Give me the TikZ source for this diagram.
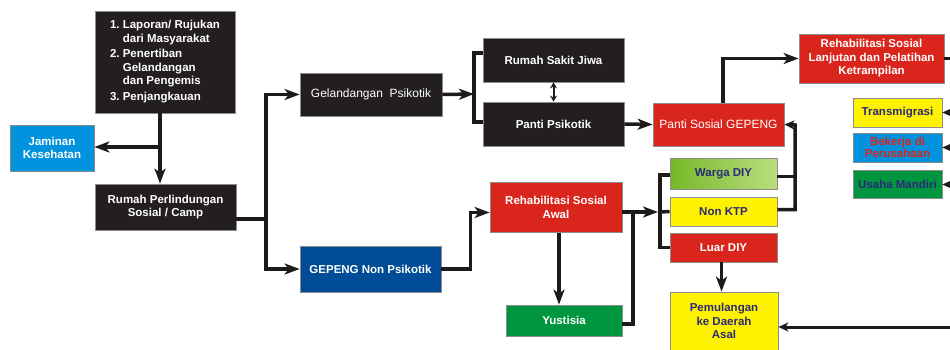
\documentclass[tikz,border=0pt]{standalone}
\usepackage{fontspec}
\setmainfont{Liberation Sans}
\usepackage{xcolor}
\usetikzlibrary{arrows.meta,calc}
\definecolor{boxblack}{RGB}{35,31,32}
\definecolor{boxline}{RGB}{140,140,140}
\definecolor{skyblue}{RGB}{0,146,221}
\definecolor{deepblue}{RGB}{0,76,151}
\definecolor{boxred}{RGB}{218,37,29}
\definecolor{boxyellow}{RGB}{255,242,0}
\definecolor{boxgreen}{RGB}{0,150,64}
\definecolor{lightgreen}{RGB}{186,222,128}
\definecolor{midgreen}{RGB}{118,184,40}
\definecolor{navy}{RGB}{43,42,120}
\definecolor{linecol}{RGB}{30,26,26}

\begin{document}
\begin{tikzpicture}[x=1pt,y=-1pt,
    box/.style={draw=boxline,line width=0.8pt,inner sep=0pt,align=center,text=white,
      font=\fontsize{11.5}{13.5}\selectfont\bfseries},
    plain/.style={font=\fontsize{12}{14}\selectfont},
    conn/.style={line width=3.5pt,draw=linecol},
    arr/.style={-{Stealth[length=15pt,width=11pt,inset=4pt]}},
    sarr/.style={-{Stealth[length=10pt,width=9pt,inset=3pt]}}]
        \useasboundingbox (0,0) rectangle (950,350);
        % draw boxes
        \node[box,fill=boxblack,minimum width=140pt,minimum height=102pt] (laporan) at (165,62)
          {\begin{tabular}{@{}l@{\ }l@{}}1.&Laporan/ Rujukan\\&dari Masyarakat\\[2pt]2.&Penertiban\\&Gelandangan\\&dan Pengemis\\[2pt]3.&Penjangkauan\end{tabular}};
        \node[box,fill=skyblue,minimum width=84pt,minimum height=46pt] (jaminan) at (52,148) {Jaminan\\Kesehatan};
        \node[box,fill=boxblack,minimum width=141pt,minimum height=46pt] (rumah) at (165.5,207) {Rumah Perlindungan\\Sosial / Camp};
        \node[box,plain,fill=boxblack,minimum width=142pt,minimum height=43pt] (gelpsi) at (371,94.5) {Gelandangan\ \ Psikotik};
        \node[box,fill=deepblue,minimum width=141pt,minimum height=46pt] (gepeng) at (370.5,269) {GEPENG Non Psikotik};
        \node[box,fill=boxblack,minimum width=141pt,minimum height=44pt] (rsj) at (553.5,60) {Rumah Sakit Jiwa};
        \node[box,fill=boxblack,minimum width=141pt,minimum height=44pt] (panti) at (553.5,124) {Panti Psikotik};
        \node[box,plain,fill=boxred,minimum width=131pt,minimum height=43pt] (psg) at (718.5,124.5) {Panti Sosial GEPENG};
        \node[box,fill=boxred,minimum width=145pt,minimum height=49pt] (lanjut) at (871.5,58.5) {Rehabilitasi Sosial\\Lanjutan dan Pelatihan\\Ketrampilan};
        \node[box,fill=boxyellow,text=navy,minimum width=89pt,minimum height=29pt] (trans) at (897.5,112.5) {Transmigrasi};
        \node[box,fill=skyblue,text=boxred,minimum width=89pt,minimum height=29pt,
          font=\fontsize{11.5}{12.5}\selectfont\bfseries] (bekerja) at (897.5,147.5) {Bekerja di\\Perusahaan};
        \node[box,fill=boxgreen,text=navy,minimum width=89pt,minimum height=28pt] (usaha) at (897.5,184.5) {Usaha Mandiri};
        \node[box,fill=boxred,minimum width=132pt,minimum height=50pt] (awal) at (556,207.5) {Rehabilitasi Sosial\\Awal};
        \node[box,fill=boxgreen,minimum width=116pt,minimum height=31pt] (yust) at (564,320.5) {Yustisia};
        \node[box,left color=midgreen,right color=lightgreen,text=navy,minimum width=107pt,minimum height=31pt] (warga) at (723.5,173.5) {Warga DIY};
        \node[box,fill=boxyellow,text=navy,minimum width=107pt,minimum height=29pt] (nonktp) at (723.5,211.5) {Non KTP};
        \node[box,fill=boxred,minimum width=107pt,minimum height=29pt] (luar) at (723.5,247.5) {Luar DIY};
        \node[box,fill=boxyellow,text=navy,minimum width=108pt,minimum height=58pt] (pulang) at (724,321) {Pemulangan\\ke Daerah\\Asal};
        % branch points
        \coordinate (split) at (160,147);
        \coordinate (fork1) at (266,219);
        \coordinate (fork2) at (474,94);
        \coordinate (fork3) at (660,212);
        \coordinate (join) at (633,212);
        \coordinate (ret) at (795,125);
        \coordinate (edge) at (950,0);
        \coordinate (inP) at (950,327);
        % draw connectors from laporan
        \draw[conn] (split |- laporan.south) -- (split);
        \draw[conn,arr] (split) -- (split |- rumah.north);
        \draw[conn,arr] (split) -- (split -| jaminan.east);
        \draw[conn] (rumah.east |- fork1) -- (fork1);
        \draw[conn,arr] (fork1) |- (gelpsi.west);
        \draw[conn,arr] (fork1) |- (gepeng.west);
        % psikotik branch
        \draw[conn,arr] (gelpsi.east) -- (fork2);
        \draw[conn] ([yshift=7pt]rsj.west) -| (fork2) |- ([yshift=2pt]panti.west);
        \draw[line width=2pt,draw=linecol,{Stealth[length=6pt,width=7pt]}-{Stealth[length=6pt,width=7pt]}] (rsj.south) -- (panti.north);
        \draw[conn,arr] (panti.east) -- (psg.west);
        \draw[conn,arr] ([xshift=4.5pt]psg.north) |- (lanjut.west);
        \draw[conn] (lanjut.east) -- (lanjut.east -| edge);
        \foreach \n in {trans,bekerja,usaha}
        \draw[conn,sarr] (\n.east -| edge) -- (\n.east);
        % non psikotik branch
        \draw[conn,arr] (gepeng.east) -- ++(29,0) |- ([yshift=-5pt]awal.west);
        \draw[conn,arr] ([xshift=3pt]awal.south) -- ([xshift=3pt]awal.south |- yust.north);
        \draw[conn,arr] (awal.east |- fork3) -- ([xshift=-2pt]fork3);
        \draw[conn] ([yshift=-1.5pt]warga.west) -| (fork3) |- (luar.west);
        \draw[conn] (fork3) -- (nonktp.west);
        \draw[conn] ([yshift=-3.5pt]yust.east) -| (join);
        % back to panti sosial and home
        \draw[conn] ([yshift=-3pt]warga.east) -- ([yshift=-3pt]warga.east -| ret);
        \draw[conn,sarr] ([yshift=2pt]nonktp.east) -| (ret) -- (psg.east);
        \draw[conn,arr] ([xshift=-2pt]luar.south) -- ([xshift=-2pt]luar.south |- pulang.north);
        \draw[line width=3pt,draw=linecol,sarr] (inP) -- (inP -| pulang.east);
\end{tikzpicture}
\end{document}
